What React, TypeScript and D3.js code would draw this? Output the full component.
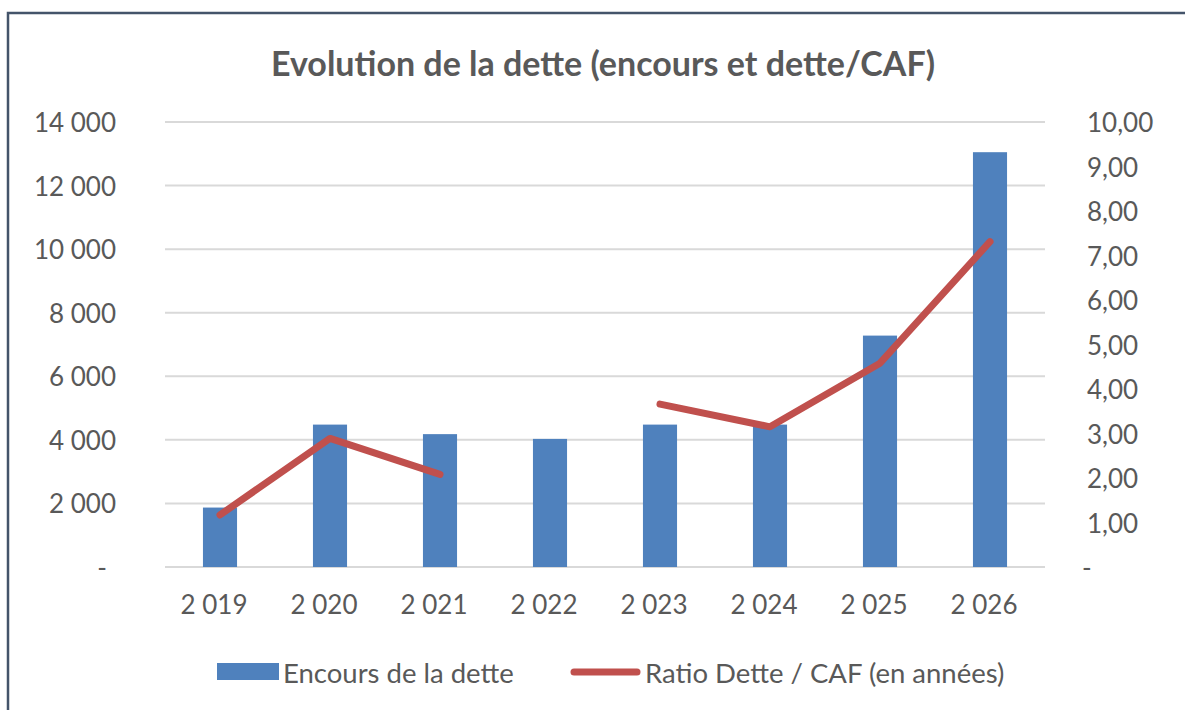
import { useMemo } from "react";
import * as d3 from "d3";

// Evolution de la dette — encours (barres, axe gauche) et ratio dette/CAF (ligne, axe droit)

const YEARS = [2019, 2020, 2021, 2022, 2023, 2024, 2025, 2026];
const ENCOURS = [1870, 4480, 4180, 4030, 4480, 4480, 7280, 13050];
// 2022 : pas de ratio disponible, la ligne est interrompue
const RATIO: (number | null)[] = [1.17, 2.89, 2.08, null, 3.66, 3.15, 4.58, 7.31];

const LEFT_TICKS = [0, 2000, 4000, 6000, 8000, 10000, 12000, 14000];
const RIGHT_TICKS = [0, 1, 2, 3, 4, 5, 6, 7, 8, 9, 10];

const TITLE = "Evolution de la dette (encours et dette/CAF)";
const LEGEND_BAR = "Encours de la dette";
const LEGEND_LINE = "Ratio Dette / CAF (en années)";

const W = 1185;
const H = 710;
const PLOT = { left: 165, right: 1045, top: 122, bottom: 567 };

const BLUE = "#4F81BD";
const RED = "#C0504D";
const GRID = "#D9D9D9";
const TEXT = "#595959";
const FONT = "Lato, 'Liberation Sans', sans-serif";

const fr = d3.formatLocale({
  decimal: ",",
  thousands: " ",
  grouping: [3],
  currency: ["", ""],
});
const fmtInt = fr.format(",d");
const fmtDec = fr.format(".2f");

export default function App() {
  const x = useMemo(
    () =>
      d3
        .scaleBand<number>()
        .domain(YEARS)
        .range([PLOT.left, PLOT.right])
        .paddingInner(0.69)
        .paddingOuter(0.345),
    []
  );
  const yL = d3.scaleLinear().domain([0, 14000]).range([PLOT.bottom, PLOT.top]);
  const yR = d3.scaleLinear().domain([0, 10]).range([PLOT.bottom, PLOT.top]);

  const cx = (yr: number) => (x(yr) ?? 0) + x.bandwidth() / 2;

  const line = d3
    .line<number | null>()
    .defined((d) => d != null)
    .x((_d, i) => cx(YEARS[i]))
    .y((d) => yR(d as number));

  return (
    <svg
      width={W}
      height={H}
      style={{ position: "fixed", left: 0, top: 0, background: "#fff" }}
      fontFamily={FONT}
    >
      <rect x={0} y={0} width={W} height={H} fill="#fff" />
      {/* cadre du graphique */}
      <path d={`M8,${H + 10}V13H${W + 10}`} fill="none" stroke="#44546A" strokeWidth={2.5} />

      <text x={603} y={62} textAnchor="middle" dominantBaseline="central" fontSize={34} fontWeight="bold" fill={TEXT}>
        {TITLE}
      </text>

      {/* grille */}
      {LEFT_TICKS.map((t) => (
        <line key={t} x1={PLOT.left} x2={PLOT.right} y1={yL(t)} y2={yL(t)} stroke={GRID} strokeWidth={2} />
      ))}

      {/* axe gauche */}
      {LEFT_TICKS.map((t) => (
        <text
          key={t}
          x={t === 0 ? 107 : 116}
          y={yL(t)}
          textAnchor="end"
          dominantBaseline="central"
          fontSize={26}
          fill={TEXT}
        >
          {t === 0 ? "-" : fmtInt(t)}
        </text>
      ))}

      {/* axe droit */}
      {RIGHT_TICKS.map((t) => (
        <text
          key={t}
          x={t === 0 ? 1082 : 1087}
          y={yR(t)}
          textAnchor="start"
          dominantBaseline="central"
          fontSize={26}
          fill={TEXT}
        >
          {t === 0 ? "-" : fmtDec(t)}
        </text>
      ))}

      {/* barres */}
      {ENCOURS.map((v, i) => (
        <rect
          key={YEARS[i]}
          x={x(YEARS[i])}
          y={yL(v)}
          width={x.bandwidth()}
          height={yL(0) - yL(v)}
          fill={BLUE}
        />
      ))}

      {/* ratio */}
      <path
        d={line(RATIO) ?? ""}
        fill="none"
        stroke={RED}
        strokeWidth={7}
        strokeLinecap="round"
        strokeLinejoin="round"
      />

      {/* axe x (format comptable : espace de fin, d'où le léger décalage) */}
      {YEARS.map((yr) => (
        <text
          key={yr}
          x={cx(yr)}
          dx={-6}
          y={604}
          textAnchor="middle"
          dominantBaseline="central"
          fontSize={26}
          fill={TEXT}
        >
          {fmtInt(yr)}
        </text>
      ))}

      {/* légende */}
      <rect x={217} y={663} width={62} height={17} fill={BLUE} />
      <text x={283} y={672} dominantBaseline="central" fontSize={27.5} fill={TEXT}>
        {LEGEND_BAR}
      </text>
      <line x1={574} x2={637} y1={672} y2={672} stroke={RED} strokeWidth={7} strokeLinecap="round" />
      <text x={645} y={672} dominantBaseline="central" fontSize={27.5} fill={TEXT}>
        {LEGEND_LINE}
      </text>
    </svg>
  );
}
